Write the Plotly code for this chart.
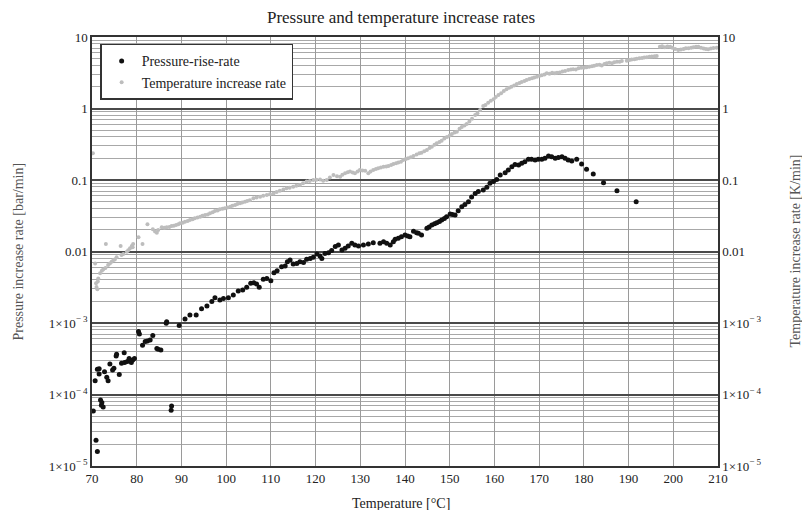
import plotly.graph_objects as go

# ---- Pressure-rise-rate (black) ----
p_temp = [70.3, 70.7, 70.9, 71.2, 71.2, 71.6, 71.6, 71.9, 72.1, 72.2, 72.5, 72.8, 73.3, 73.6,
          74.0, 74.6, 74.9, 75.4, 75.5, 76.1, 76.6, 77.2, 77.3, 77.9, 78.3, 78.8, 79.1, 79.5,
          80.4, 80.6, 81.3, 81.9, 82.4, 83.0, 83.6, 84.5, 84.8, 85.4, 86.6, 86.7, 87.7, 87.8,
          89.5, 90.8, 91.9, 93.3, 94.5, 95.7, 96.8, 97.5, 98.6, 99.4, 100.5, 101.6, 102.7,
          103.7, 104.6, 105.5, 106.2, 106.8, 107.4, 108.3, 109.1, 110.0, 110.7, 111.4, 112.4,
          113.2, 113.7, 114.3, 115.0, 115.8, 116.5, 117.3, 118.0, 118.8, 119.5, 120.3, 121.0,
          121.4, 122.1, 122.9, 123.6, 124.4, 125.1, 125.9, 126.6, 127.3, 128.1, 128.8, 129.6,
          130.7, 131.8, 132.9, 134.4, 135.2, 135.9, 136.7, 137.4, 137.8, 138.5, 139.2, 140.0,
          140.6, 141.1, 141.9, 142.6, 143.0, 143.7, 144.9, 145.4, 146.0, 146.6, 147.1, 147.7,
          148.2, 148.8, 149.3, 150.1, 150.6, 151.2, 151.9, 152.7, 153.4, 154.2, 154.9, 155.7,
          156.4, 157.5, 158.3, 159.0, 159.8, 160.5, 161.3, 162.4, 163.1, 163.9, 164.6, 165.4,
          166.1, 166.8, 167.6, 168.3, 169.1, 169.8, 170.6, 171.3, 172.1, 172.8, 173.6, 174.3,
          175.1, 175.8, 176.5, 177.3, 178.4, 179.5, 180.6, 182.1, 184.4, 187.4, 191.7]
p_rate = [5.9e-5, 1.56e-4, 2.3e-5, 1.6e-5, 2.25e-4, 2.3e-4, 1.94e-4, 8.4e-5, 7.1e-5, 7.7e-5,
          6.7e-5, 2.08e-4, 1.74e-4, 1.56e-4, 2.67e-4, 2.2e-4, 2.32e-4, 3.45e-4, 3.65e-4, 1.91e-4,
          2.73e-4, 3.85e-4, 2.8e-4, 2.9e-4, 3.2e-4, 2.8e-4, 3.04e-4, 3.2e-4, 7.6e-4, 7.0e-4,
          4.9e-4, 5.5e-4, 5.6e-4, 5.8e-4, 6.7e-4, 4.4e-4, 4.3e-4, 4.2e-4, 9.9e-4, 1.04e-3,
          6.0e-5, 6.9e-5, 9.2e-4, 1.14e-3, 1.29e-3, 1.29e-3, 1.58e-3, 1.73e-3, 2.0e-3, 2.26e-3,
          2.1e-3, 2.21e-3, 2.26e-3, 2.47e-3, 2.8e-3, 2.9e-3, 3.16e-3, 3.59e-3, 3.66e-3, 3.5e-3,
          3.15e-3, 4.08e-3, 4.2e-3, 3.9e-3, 5.06e-3, 5.4e-3, 6.1e-3, 6.27e-3, 7.2e-3, 7.6e-3,
          6.7e-3, 6.8e-3, 7.2e-3, 7.0e-3, 7.8e-3, 8.0e-3, 8.3e-3, 9.2e-3, 8.65e-3, 8.0e-3,
          9.4e-3, 9.6e-3, 1.03e-2, 1.17e-2, 1.23e-2, 1.05e-2, 1.11e-2, 1.19e-2, 1.30e-2, 1.23e-2,
          1.19e-2, 1.23e-2, 1.27e-2, 1.33e-2, 1.30e-2, 1.37e-2, 1.30e-2, 1.23e-2, 1.37e-2,
          1.48e-2, 1.53e-2, 1.61e-2, 1.70e-2, 1.65e-2, 1.61e-2, 1.92e-2, 1.83e-2, 1.80e-2,
          1.70e-2, 2.11e-2, 2.2e-2, 2.35e-2, 2.45e-2, 2.53e-2, 2.62e-2, 2.76e-2, 2.9e-2, 3.05e-2,
          3.34e-2, 3.3e-2, 3.24e-2, 3.72e-2, 4.24e-2, 4.55e-2, 4.97e-2, 5.8e-2, 6.5e-2, 6.9e-2,
          7.25e-2, 7.9e-2, 9.0e-2, 9.5e-2, 0.102, 0.117, 0.126, 0.138, 0.153, 0.165, 0.162,
          0.171, 0.180, 0.195, 0.195, 0.19, 0.195, 0.195, 0.201, 0.217, 0.212, 0.201, 0.207,
          0.212, 0.201, 0.19, 0.185, 0.195, 0.168, 0.141, 0.121, 0.0917, 0.0708, 0.0497]

# ---- Temperature increase rate (grey) ----
t_temp = [70.2, 70.7, 70.9, 71.0, 71.2, 71.3, 71.4, 71.8, 72.2, 72.5, 73.0, 73.1, 73.6, 74.0,
          74.4, 74.8, 75.1, 75.5, 76.4, 76.6, 77.0, 77.8, 78.1, 78.5, 78.9, 79.1, 79.2, 80.4,
          81.3, 82.4, 83.6, 84.1, 84.5, 84.8, 85.6, 86.2, 86.7, 87.3, 87.8, 88.3, 88.8, 89.3,
          89.7, 90.3, 90.8, 91.4, 91.9, 92.5, 93.0, 93.6, 94.2, 94.7, 95.3, 95.9, 96.4, 97.0,
          97.5, 98.1, 98.6, 99.2, 99.7, 100.3, 100.9, 101.4, 102.0, 102.5, 103.1, 103.6, 104.2,
          104.7, 105.3, 106.1, 106.8, 107.6, 108.3, 109.1, 109.8, 110.6, 111.3, 112.0, 112.8,
          113.5, 114.2, 115.0, 115.7, 116.5, 117.2, 118.0, 118.7, 119.5, 120.2, 121.0, 121.7,
          122.5, 123.2, 124.0, 124.8, 125.5, 126.0, 126.6, 127.2, 127.7, 128.3, 128.8, 129.4,
          129.9, 130.5, 131.1, 131.8, 132.3, 132.9, 133.5, 134.0, 134.6, 135.2, 135.8, 136.3,
          136.9, 137.4, 138.0, 138.5, 139.1, 139.6, 140.2, 140.7, 141.3, 141.9, 142.6, 143.2,
          143.7, 144.3, 144.9, 145.5, 146.0, 146.6, 147.1, 147.7, 148.2, 148.8, 149.4, 150.0,
          150.5, 151.1, 151.6, 152.2, 152.7, 153.3, 153.8, 154.4, 155.0, 155.7, 156.2, 156.8,
          157.5, 158.0, 158.6, 159.2, 159.8, 160.3, 160.9, 161.5, 162.1, 162.7, 163.3, 163.8,
          164.4, 165.0, 165.6, 166.1, 166.7, 167.2, 167.8, 168.4, 168.9, 169.5, 170.1, 170.6,
          171.2, 171.7, 172.3, 172.9, 173.5, 174.0, 174.6, 175.2, 175.8, 176.5, 177.1, 177.6,
          178.2, 178.8, 179.4, 180.0, 180.6, 181.2, 181.8, 182.3, 182.9, 183.5, 184.0, 184.6,
          185.1, 185.7, 186.3, 186.8, 187.4, 188.0, 188.5, 189.6, 190.2, 190.7, 191.3, 191.8,
          192.4, 193.0, 193.5, 194.1, 194.7, 195.2, 195.8, 196.3, 197.0, 197.5, 198.1, 198.7,
          199.3, 199.8, 200.4, 201.1, 201.7, 202.3, 202.8, 203.4, 204.0, 204.5, 205.1, 205.6,
          206.2, 206.8, 207.3, 207.8, 208.4, 209.0, 209.7]
t_rate = [0.236, 6.8e-3, 3.6e-3, 3.2e-3, 2.96e-3, 3.8e-3, 4.2e-3, 4.95e-3, 5.4e-3, 5.6e-3,
          5.9e-3, 1.27e-2, 6.5e-3, 6.8e-3, 7.2e-3, 7.6e-3, 7.75e-3, 8.3e-3, 1.19e-2, 8.9e-3,
          9.2e-3, 9.9e-3, 1.04e-2, 1.11e-2, 1.19e-2, 1.15e-2, 1.27e-2, 1.58e-2, 1.27e-2, 2.4e-2,
          2.04e-2, 1.9e-2, 1.83e-2, 2.0e-2, 2.18e-2, 2.15e-2, 2.18e-2, 2.2e-2, 2.27e-2, 2.3e-2,
          2.35e-2, 2.4e-2, 2.48e-2, 2.52e-2, 2.61e-2, 2.68e-2, 2.76e-2, 2.82e-2, 2.91e-2, 3.0e-2,
          3.07e-2, 3.15e-2, 3.24e-2, 3.3e-2, 3.42e-2, 3.55e-2, 3.68e-2, 3.75e-2, 3.89e-2, 3.95e-2,
          4.02e-2, 4.12e-2, 4.24e-2, 4.35e-2, 4.47e-2, 4.6e-2, 4.72e-2, 4.85e-2, 4.97e-2, 5.1e-2,
          5.2e-2, 5.54e-2, 5.7e-2, 5.85e-2, 6.0e-2, 6.17e-2, 6.3e-2, 6.5e-2, 6.8e-2, 7.1e-2,
          7.35e-2, 7.65e-2, 7.8e-2, 8.07e-2, 8.3e-2, 8.5e-2, 9.0e-2, 9.5e-2, 9.7e-2, 0.100,
          0.101, 0.102, 0.098, 0.100, 0.108, 0.117, 0.113, 0.111, 0.118, 0.124, 0.128, 0.131,
          0.127, 0.124, 0.132, 0.138, 0.136, 0.135, 0.124, 0.131, 0.138, 0.142, 0.146, 0.150,
          0.153, 0.155, 0.157, 0.162, 0.168, 0.172, 0.175, 0.18, 0.19, 0.196, 0.201, 0.208,
          0.216, 0.228, 0.236, 0.241, 0.252, 0.263, 0.28, 0.292, 0.31, 0.326, 0.34, 0.355,
          0.38, 0.40, 0.42, 0.44, 0.46, 0.474, 0.52, 0.55, 0.58, 0.607, 0.66, 0.72, 0.81,
          0.86, 0.95, 1.08, 1.12, 1.2, 1.28, 1.35, 1.45, 1.55, 1.64, 1.75, 1.86, 1.95, 2.02,
          2.1, 2.2, 2.28, 2.35, 2.42, 2.51, 2.58, 2.65, 2.72, 2.79, 2.86, 2.92, 3.0, 3.11,
          3.05, 3.15, 3.1, 3.17, 3.2, 3.28, 3.35, 3.45, 3.5, 3.55, 3.5, 3.65, 3.7, 3.72, 3.77,
          3.85, 3.9, 3.95, 4.06, 4.1, 4.0, 4.2, 4.29, 4.35, 4.3, 4.45, 4.52, 4.5, 4.6, 4.67,
          4.75, 4.85, 4.9, 4.98, 5.05, 5.1, 5.15, 5.2, 5.28, 5.35, 5.4, 5.42, 7.3, 7.4, 7.2,
          7.35, 7.3, 7.1, 6.8, 6.58, 6.7, 6.8, 6.95, 6.95, 7.1, 7.2, 7.3, 7.3, 7.1, 6.9, 6.8,
          6.73, 6.9, 7.0, 7.1]

x_ticks = [70, 80, 90, 100, 110, 120, 130, 140, 150, 160, 170, 180, 190, 200, 210]
y_tickvals = [1e-5, 1e-4, 1e-3, 0.01, 0.1, 1, 10]
y_ticktext = ["1×10<sup>− 5</sup>", "1×10<sup>− 4</sup>", "1×10<sup>− 3</sup>",
              "0.01", "0.1", "1", "10"]

FONT = "Liberation Serif"
MAJOR = "#4a4a4a"
MINOR = "#a8a8a8"
VGRID = "#9a9a9a"
TICKFONT = dict(family=FONT, size=13, color="#222222")

fig = go.Figure()
fig.add_trace(go.Scatter(x=p_temp, y=p_rate, mode="markers", name="Pressure-rise-rate",
                         marker=dict(color="#111111", size=5)))
fig.add_trace(go.Scatter(x=t_temp, y=t_rate, mode="markers", name="Temperature increase rate",
                         marker=dict(color="#bdbdbd", size=4), yaxis="y2"))

fig.update_layout(
    width=802, height=510,
    margin=dict(l=92, r=84, t=37, b=44),
    paper_bgcolor="white", plot_bgcolor="white",
    font=dict(family=FONT, size=12, color="#222222"),
    title=dict(text="Pressure and temperature increase rates", x=0.5, xref="container",
               y=1 - 17 / 510, yref="container", yanchor="middle",
               font=dict(family=FONT, size=17, color="#222222")),
    xaxis=dict(range=[70, 210], tickvals=x_ticks, showgrid=True, gridcolor=VGRID, gridwidth=1.4,
               showline=True, linecolor="#333333", linewidth=1.5, mirror=True, ticks="",
               zeroline=False, tickfont=TICKFONT),
    yaxis=dict(type="log", range=[-5, 1], tickvals=y_tickvals, ticktext=y_ticktext,
               showgrid=True, gridcolor=MAJOR, gridwidth=1.6,
               minor=dict(dtick="D1", showgrid=True, gridcolor=MINOR, gridwidth=1, ticks=""),
               showline=True, linecolor="#333333", linewidth=1.5, ticks="",
               tickfont=TICKFONT, zeroline=False),
    yaxis2=dict(type="log", range=[-5, 1], tickvals=y_tickvals, ticktext=y_ticktext,
                overlaying="y", side="right", showgrid=False, showline=True,
                linecolor="#333333", linewidth=1.5, ticks="", zeroline=False,
                tickfont=TICKFONT),
    legend=dict(x=0.013, y=0.984, xanchor="left", yanchor="top", bgcolor="white",
                bordercolor="#333333", borderwidth=1.5,
                font=dict(family=FONT, size=14, color="#222222"),
                tracegroupgap=0, itemsizing="trace", itemwidth=30),
    showlegend=True,
    annotations=[
        dict(text="Pressure increase rate [bar/min]", xref="paper", yref="paper",
             x=(18 - 92) / 626, y=0.5, textangle=-90, showarrow=False,
             xanchor="center", yanchor="middle",
             font=dict(family=FONT, size=14, color="#555555")),
        dict(text="Temperature increase rate [K/min]", xref="paper", yref="paper",
             x=(795 - 92) / 626, y=0.5, textangle=-90, showarrow=False,
             xanchor="center", yanchor="middle",
             font=dict(family=FONT, size=14, color="#555555")),
        dict(text="Temperature [°C]", xref="paper", yref="paper",
             x=(401 - 92) / 626, y=-(503 - 466) / 429, showarrow=False,
             xanchor="center", yanchor="middle",
             font=dict(family=FONT, size=14, color="#222222")),
    ],
)

fig.write_html("out.html")
